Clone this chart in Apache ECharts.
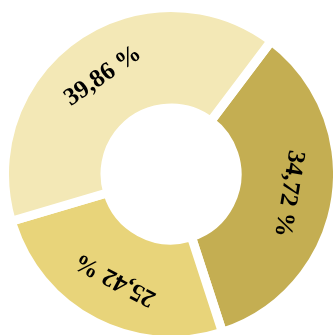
<!DOCTYPE html>
<html>
<head>
<meta charset="utf-8">
<script src="https://cdn.jsdelivr.net/npm/echarts@6/dist/echarts.min.js"></script>
<style>html,body{margin:0;padding:0;background:#fff}#c{width:333px;height:335px}</style>
</head>
<body>
<div id="c"></div>
<script>
const categories = ['Segment A', 'Segment B', 'Segment C'];
const values = [34.72, 25.42, 39.86];
const colors = ['#c4ae52', '#e8d47a', '#f3e8b6'];

const startCW = 37; // degrees clockwise from 12 o'clock
const total = values.reduce((a, b) => a + b, 0);
let cum = 0;
const data = values.map((v, i) => {
  const mid = startCW + (cum + v / 2) / total * 360;
  cum += v;
  return {
    name: categories[i],
    value: v,
    itemStyle: { color: colors[i] },
    label: { rotate: -mid }
  };
});

const chart = echarts.init(document.getElementById('c'), null, { renderer: 'canvas' });
chart.setOption({
  animation: false,
  series: [{
    type: 'pie',
    center: [171, 174],
    radius: [66, 166.5],
    startAngle: 90 - startCW,
    clockwise: true,
    avoidLabelOverlap: false,
    itemStyle: { borderColor: '#ffffff', borderWidth: 9 },
    label: {
      show: true,
      position: 'inside',
      color: '#000',
      fontFamily: 'Liberation Serif',
      fontWeight: 'bold',
      fontSize: 25,
      formatter: p => p.value.toFixed(2).replace('.', ',') + ' %'
    },
    labelLine: { show: false },
    emphasis: { disabled: true },
    data: data
  }]
});
</script>
</body>
</html>
